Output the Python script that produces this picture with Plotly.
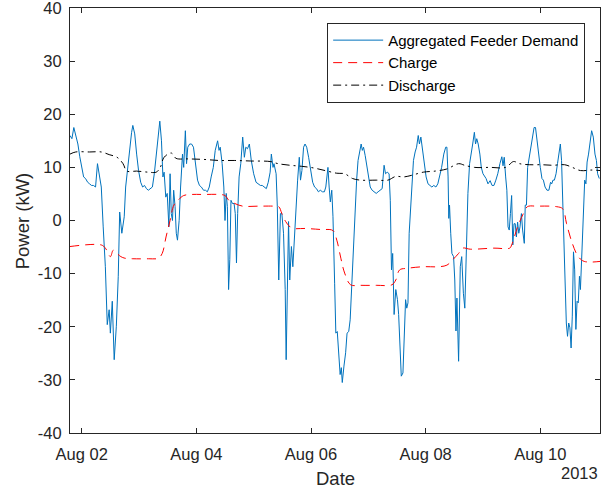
import pandas as pd
import plotly.graph_objects as go

# Time axis: hours since 2013-08-01 00:00
BASE = pd.Timestamp("2013-08-01")

demand_hours = [
    19.1, 19.9, 20.7, 21.5, 22.4, 23.2, 24.0, 24.8, 25.6, 26.5,
    27.3, 28.1, 28.9, 29.8, 30.6, 31.4, 32.2, 33.0, 33.9, 34.7,
    35.5, 36.0, 36.8, 37.6, 38.5, 39.3, 39.9, 40.8, 41.8, 42.4,
    43.2, 44.1, 44.9, 45.4, 46.2, 47.0, 47.8, 48.7, 49.5, 50.3,
    51.1, 51.9, 52.8, 53.6, 54.4, 55.2, 56.1, 56.7, 57.4, 58.0,
    58.5, 59.2, 59.8, 60.5, 61.0, 61.5, 62.0, 62.5, 63.1, 63.6,
    64.1, 64.8, 65.4, 66.2, 66.7, 67.4, 67.9, 68.4, 69.2, 70.0,
    70.8, 71.7, 72.5, 73.3, 74.1, 75.0, 75.8, 76.6, 77.4, 78.2,
    79.1, 79.9, 80.9, 81.5, 82.0, 82.8, 83.5, 84.0, 84.5, 85.0,
    85.5, 86.0, 86.5, 87.1, 87.8, 88.3, 88.8, 89.3, 89.9, 90.6,
    91.4, 92.1, 92.7, 93.4, 94.2, 95.0, 96.0, 97.0, 98.0, 98.8,
    99.6, 100.4, 101.3, 102.1, 102.9, 103.4, 104.1, 104.5, 105.4, 105.9,
    106.5, 107.2, 107.8, 108.5, 109.2, 109.6, 110.1, 110.6, 111.1, 111.8,
    112.4, 113.1, 113.8, 114.4, 115.1, 115.6, 116.2, 116.9, 117.5, 118.2,
    119.0, 119.8, 120.7, 121.5, 122.3, 123.1, 123.9, 124.8, 125.6, 126.2,
    127.1, 127.6, 128.1, 128.7, 129.2, 129.9, 130.4, 131.0, 131.7, 132.2,
    132.7, 133.1, 133.8, 134.5, 135.1, 135.8, 136.4, 137.1, 137.8, 138.4,
    139.1, 139.7, 140.4, 141.0, 141.5, 142.0, 142.7, 143.3, 144.0, 144.8,
    145.6, 146.5, 147.3, 148.1, 148.9, 149.8, 150.6, 151.2, 151.9, 152.7,
    153.2, 153.7, 154.2, 154.8, 155.5, 156.2, 156.7, 157.1, 157.8, 158.5,
    159.1, 159.6, 160.1, 160.6, 161.1, 161.8, 162.4, 162.9, 163.6, 164.2,
    164.9, 165.4, 166.0, 166.7, 167.3, 168.2, 169.0, 169.8, 170.6, 171.4,
    172.3, 173.1, 173.9, 174.7, 175.6, 176.4, 176.9, 177.4, 177.7, 178.0,
    178.5, 179.0, 179.7, 180.2, 180.7, 181.1, 181.8, 182.5, 183.1, 183.8,
    184.4, 185.1, 185.7, 186.4, 187.1, 187.7, 188.4, 188.9, 189.4, 190.0,
    190.7, 191.3, 192.0, 192.7, 193.3, 194.1, 195.0, 195.8, 196.6, 197.4,
    198.2, 199.1, 199.9, 200.4, 200.9, 201.5, 202.0, 202.5, 203.0, 203.5,
    204.0, 204.5, 205.0, 205.5, 206.0, 206.5, 207.0, 207.5, 208.1, 208.6,
    209.3, 209.7, 210.2, 210.7, 211.4, 212.1, 212.7, 213.4, 214.0, 214.7,
    215.3, 216.0, 216.7, 217.3, 218.0, 218.8, 219.6, 220.3, 220.8, 221.3,
    221.9, 222.6, 223.2, 223.9, 224.4, 224.9, 225.4, 225.9, 226.4, 226.9,
    227.4, 227.9, 228.4, 228.9, 229.4, 229.9, 230.4, 230.9, 231.4, 231.9,
    232.4, 232.8, 233.3, 234.0, 234.6, 235.1, 235.6, 236.2, 236.9, 237.5,
    238.2, 238.9, 239.5, 240.0, 240.7,
]
demand_kw = [
    16.0, 15.4, 17.5, 16.0, 14.4, 12.0, 10.0, 8.2, 7.9, 7.2,
    6.9, 6.6, 6.6, 6.3, 10.7, 8.2, 6.3, -1.2, -8.7, -19.6,
    -16.8, -21.2, -15.2, -26.2, -19.9, -10.5, 1.6, -2.4, 0.7, 6.3,
    10.0, 13.8, 16.6, 17.9, 16.3, 12.5, 9.4, 7.2, 6.3, 6.6,
    6.0, 5.7, 6.0, 6.3, 8.8, 12.5, 15.7, 18.7, 15.0, 8.2,
    9.1, 4.4, 5.1, -1.2, 8.8, 1.3, 0.0, 5.7, 2.6, -2.4,
    -3.7, 0.0, 6.3, 12.5, 10.0, 16.9, 10.7, 13.8, 14.4, 14.4,
    13.8, 10.7, 7.6, 6.6, 6.3, 5.7, 5.7, 5.4, 6.3, 8.2,
    10.0, 13.2, 15.0, 13.2, 13.8, 10.7, 6.3, 0.0, 5.1, 2.6,
    -13.0, -7.4, 3.8, 3.2, 3.2, 1.3, -8.0, 1.3, 8.2, 10.7,
    15.7, 11.9, 13.8, 13.5, 14.4, 11.3, 8.8, 7.2, 6.9, 6.6,
    6.6, 6.3, 6.0, 7.2, 9.1, 12.5, 10.0, 10.7, 8.8, 2.6,
    -11.2, 1.3, 1.3, -2.4, -13.0, -26.2, -11.8, -0.2, -11.2, -4.9,
    -8.7, -2.4, 1.3, 7.6, 11.9, 7.6, 9.4, 13.8, 14.4, 13.8,
    11.9, 9.4, 7.2, 6.3, 6.0, 5.4, 5.7, 5.4, 5.4, 6.3,
    10.0, 6.3, 3.5, 5.7, 0.7, -11.8, -21.2, -20.9, -26.2, -29.0,
    -27.7, -30.5, -27.4, -24.9, -21.2, -20.9, -18.7, -11.8, -3.7, 2.6,
    7.6, 11.3, 12.9, 14.4, 13.2, 13.8, 12.2, 10.7, 8.2, 6.3,
    5.7, 5.4, 5.1, 5.4, 5.7, 6.0, 10.4, 8.8, 9.1, 8.8,
    3.8, -9.3, -6.2, -17.7, -13.0, -14.9, -17.7, -21.2, -29.3, -28.7,
    -22.4, -14.9, -16.5, -15.5, -2.4, 2.6, 6.9, 11.3, 12.9, 13.8,
    16.0, 14.4, 15.7, 13.2, 10.7, 8.2, 6.9, 6.6, 6.3, 6.6,
    6.3, 6.9, 8.2, 10.0, 12.5, 13.8, 13.8, 8.2, 0.4, 2.9,
    -2.4, -6.2, -6.8, -11.2, -20.8, -14.6, -26.5, -8.7, -6.8, -13.7,
    -16.5, -4.9, 5.1, 10.7, 13.2, 14.4, 16.6, 14.4, 15.4, 14.4,
    12.5, 10.0, 8.8, 8.2, 7.9, 6.9, 7.5, 6.6, 6.6, 7.6,
    8.8, 10.7, 12.0, 10.3, 11.9, 8.2, 5.7, -1.2, -1.8, 1.3,
    4.7, -4.6, -0.6, -0.6, -3.1, -0.3, -2.4, -1.2, 1.3, -1.8,
    -4.3, 2.9, 2.9, 10.0, 11.9, 14.4, 16.0, 17.5, 17.5, 14.4,
    11.9, 10.0, 7.9, 7.6, 6.3, 5.7, 5.7, 7.2, 6.9, 7.6,
    7.6, 8.8, 10.7, 13.2, 14.4, 11.3, 3.8, -5.6, -11.8, -19.3,
    -21.8, -19.3, -20.2, -24.0, -18.0, -5.9, -9.3, -20.5, -15.2, -15.5,
    -10.5, -13.0, -7.4, 1.3, 7.6, 6.9, 11.0, 12.5, 15.4, 16.9,
    15.7, 12.5, 11.3, 8.8, 7.9,
]

charge_hours = [
    19.1, 32.2, 33.9, 36.0, 37.2, 38.8, 40.4, 42.1, 45.4, 51.9,
    56.1, 57.7, 59.3, 61.0, 62.6, 64.3, 66.7, 70.0, 75.0, 81.5,
    84.0, 85.6, 88.1, 91.4, 98.0, 104.5, 106.5, 107.8, 109.4, 111.9,
    117.7, 124.2, 129.2, 130.8, 132.5, 134.1, 136.6, 140.7, 147.3, 153.9,
    155.5, 157.1, 160.4, 167.0, 173.6, 176.9, 179.3, 181.8, 183.5, 186.7,
    196.6, 203.2, 204.0, 206.5, 208.9, 210.6, 214.7, 222.9, 225.4, 227.0,
    229.4, 231.9, 234.4, 241.0,
]
charge_kw = [
    -4.9, -4.6, -5.2, -6.8, -5.6, -6.2, -6.8, -7.1, -7.2, -7.2,
    -7.1, -6.2, -3.1, 0.0, 2.9, 3.8, 4.7, 4.9, 4.9, 4.9,
    4.7, 3.8, 3.2, 2.7, 2.7, 2.7, 2.6, 1.3, -0.2, -1.4,
    -1.5, -1.7, -1.9, -3.7, -7.1, -9.9, -12.1, -12.2, -12.2, -12.1,
    -11.2, -9.3, -9.0, -8.7, -8.7, -8.4, -7.4, -6.2, -5.2, -5.4,
    -5.2, -5.2, -4.6, -1.2, 1.3, 2.6, 2.7, 2.6, 2.2, -0.6,
    -4.3, -6.8, -7.7, -7.7,
]

discharge_hours = [
    19.1, 21.5, 27.3, 32.2, 35.5, 38.8, 41.3, 42.9, 47.0, 51.9,
    55.2, 56.9, 58.5, 61.5, 63.5, 68.4, 75.0, 81.5, 88.1, 94.7,
    102.9, 106.2, 111.1, 116.1, 121.0, 125.9, 130.8, 134.1, 137.4, 140.7,
    147.3, 152.2, 155.5, 158.8, 162.1, 167.0, 172.0, 176.9, 181.8, 184.3,
    188.4, 195.0, 201.5, 204.8, 207.3, 211.4, 216.3, 221.3, 226.2, 229.4,
    232.8, 237.7, 241.0,
]
discharge_kw = [
    12.5, 12.9, 12.9, 12.9, 12.4, 11.9, 10.7, 9.3, 9.3, 9.1,
    9.1, 10.0, 11.9, 12.7, 11.7, 11.6, 11.5, 11.3, 11.3, 11.2,
    11.1, 10.7, 10.4, 10.2, 9.9, 9.4, 8.9, 8.8, 7.9, 7.6,
    7.6, 7.6, 8.3, 8.2, 8.5, 9.1, 9.3, 9.7, 10.7, 10.4,
    10.0, 10.0, 10.0, 11.1, 10.7, 10.5, 10.5, 10.4, 10.5, 10.0,
    9.4, 9.5, 9.4,
]

x_ticks = ["2013-08-02", "2013-08-04", "2013-08-06", "2013-08-08", "2013-08-10"]
x_tick_labels = ["Aug 02", "Aug 04", "Aug 06", "Aug 08", "Aug 10"]
y_ticks = [-40, -30, -20, -10, 0, 10, 20, 30, 40]
y_tick_labels = ["-40", "-30", "-20", "-10", "0", "10", "20", "30", "40"]
x_range_hours = [19.1, 241.0]


def to_time(hours):
    return BASE + pd.to_timedelta(pd.Series(hours), unit="h")


FONT = "Liberation Sans, Arial, Helvetica, sans-serif"
INK = "#262626"

fig = go.Figure()
fig.add_trace(go.Scatter(
    x=to_time(demand_hours), y=demand_kw, mode="lines",
    name="Aggregated Feeder Demand",
    line=dict(color="#0072BD", width=1),
))
fig.add_trace(go.Scatter(
    x=to_time(charge_hours), y=charge_kw, mode="lines",
    name="Charge", line_shape="spline",
    line=dict(color="#FF0000", width=1, dash="9px,6px"),
))
fig.add_trace(go.Scatter(
    x=to_time(discharge_hours), y=discharge_kw, mode="lines",
    name="Discharge", line_shape="spline",
    line=dict(color="#000000", width=1, dash="8px,4px,2px,4px"),
))

x_lo, x_hi = to_time(x_range_hours)

axis_common = dict(
    showline=True, linecolor=INK, linewidth=1, mirror="ticks",
    ticks="inside", ticklen=5, tickcolor=INK, tickwidth=1,
    showgrid=False, zeroline=False, ticklabeloverflow="allow",
    automargin=False,
    tickfont=dict(family=FONT, size=16.5, color=INK),
)

fig.update_layout(
    width=612, height=490,
    margin=dict(l=70, r=12, t=8, b=57),
    paper_bgcolor="white", plot_bgcolor="white",
    font=dict(family=FONT, color=INK),
    showlegend=True,
    legend=dict(
        x=0.972, xanchor="right", y=0.965, yanchor="top",
        bgcolor="white", bordercolor=INK, borderwidth=1,
        font=dict(family=FONT, size=15, color="#000000"),
        itemwidth=50,
    ),
    xaxis=dict(
        range=[x_lo, x_hi], tickvals=x_ticks, ticktext=x_tick_labels,
        ticklabelstandoff=6, **axis_common,
    ),
    yaxis=dict(
        range=[-40, 40], tickvals=y_ticks, ticktext=y_tick_labels,
        ticklabelstandoff=4, **axis_common,
    ),
    annotations=[
        dict(text="Date", xref="paper", yref="paper", x=0.5, y=-0.108,
             xanchor="center", yanchor="middle", showarrow=False,
             font=dict(family=FONT, size=18.5, color=INK)),
        dict(text="2013", xref="paper", yref="paper", x=1.0, y=-0.094,
             xanchor="right", yanchor="middle", showarrow=False,
             font=dict(family=FONT, size=16.5, color=INK)),
        dict(text="Power (kW)", xref="paper", yref="paper", x=-0.089, y=0.5,
             xanchor="center", yanchor="middle", textangle=-90, showarrow=False,
             font=dict(family=FONT, size=18.5, color=INK)),
    ],
)

fig.write_html("out.html")
